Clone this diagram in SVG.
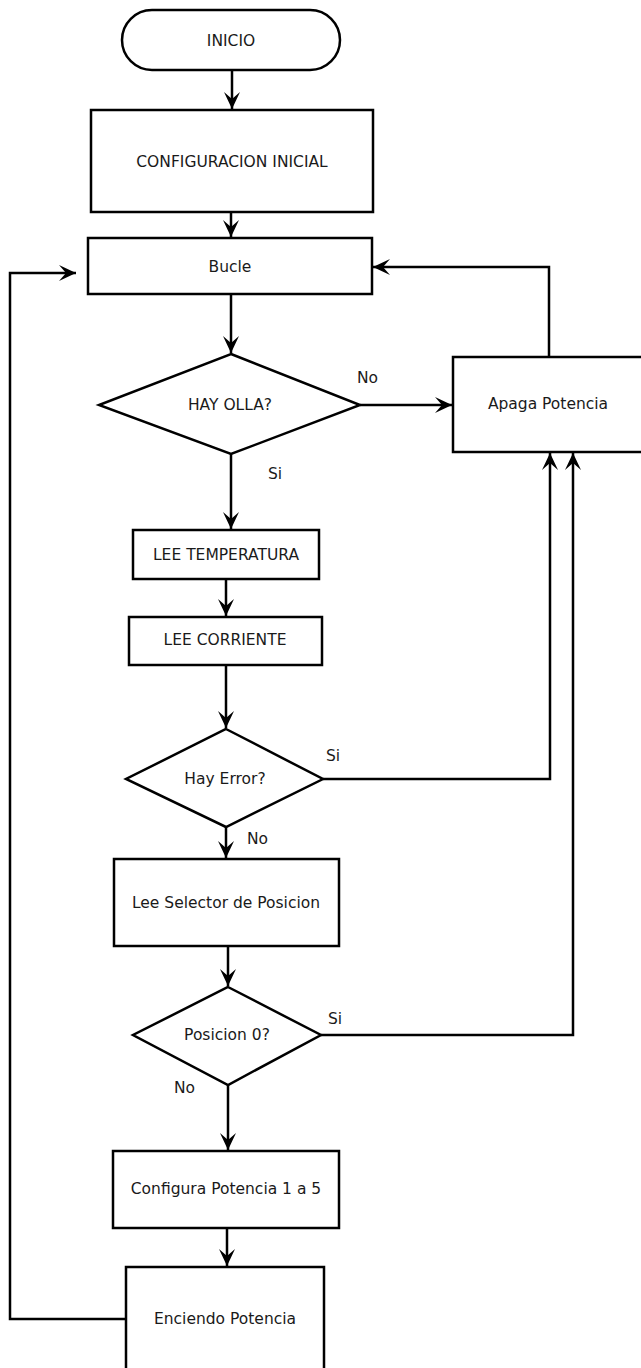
<svg xmlns="http://www.w3.org/2000/svg" width="641" height="1368" viewBox="0 0 641 1368">
<style>
.box{fill:#fff;stroke:#000;stroke-width:2.5}
.t{font-family:"DejaVu Sans","Liberation Sans",sans-serif;font-size:15.5px;fill:#1a1a1a;text-anchor:middle}
.lbl{font-family:"DejaVu Sans","Liberation Sans",sans-serif;font-size:15.5px;fill:#1a1a1a}
.c{fill:none;stroke:#000;stroke-width:2.5;marker-end:url(#ah)}
</style>
<defs>
<marker id="ah" viewBox="-19 -10 21 20" refX="0" refY="0" markerWidth="21" markerHeight="20" markerUnits="userSpaceOnUse" orient="auto">
<path d="M0,0 L-17,-8 L-10,0 L-17,8 Z" fill="#000"/>
</marker>
</defs>
<rect width="641" height="1368" fill="#fff"/>
<g id="connectors">
<path class="c" d="M232,70 V109"/>
<path class="c" d="M231,212 V237"/>
<path class="c" d="M231,294 V353"/>
<path class="c" d="M360,405 H452"/>
<path class="c" d="M549,357 V267 H373"/>
<path class="c" d="M231,454 V529"/>
<path class="c" d="M226,579 V616"/>
<path class="c" d="M226,665 V728"/>
<path class="c" d="M323,779 H550 V453"/>
<path class="c" d="M226,827 V858"/>
<path class="c" d="M228,946 V986"/>
<path class="c" d="M321,1035 H573 V453"/>
<path class="c" d="M228,1085 V1150"/>
<path class="c" d="M227,1228 V1266"/>
<path class="c" d="M126,1319 H10 V273 H76"/>
<text class="lbl" x="357" y="383">No</text>
<text class="lbl" x="268" y="479">Si</text>
<text class="lbl" x="326" y="761">Si</text>
<text class="lbl" x="247" y="844">No</text>
<text class="lbl" x="328" y="1024">Si</text>
<text class="lbl" x="174" y="1093">No</text>
</g>
<g id="inicio"><rect class="box" x="122" y="10" width="218" height="60" rx="30" ry="30"/><text class="t" x="231" y="46">INICIO</text></g>
<g id="config"><rect class="box" x="91" y="110" width="282" height="102"/><text class="t" x="232" y="167">CONFIGURACION INICIAL</text></g>
<g id="bucle"><rect class="box" x="88" y="238" width="284" height="56"/><text class="t" x="230" y="272">Bucle</text></g>
<g id="hayolla"><polygon class="box" points="231,354 360,405 231,454 99,405"/><text class="t" x="230" y="410">HAY OLLA?</text></g>
<g id="apaga"><rect class="box" x="453" y="357" width="192" height="95"/><text class="t" x="548" y="409">Apaga Potencia</text></g>
<g id="leetemp"><rect class="box" x="133" y="530" width="186" height="49"/><text class="t" x="226" y="560">LEE TEMPERATURA</text></g>
<g id="leecorr"><rect class="box" x="129" y="617" width="193" height="48"/><text class="t" x="225" y="645">LEE CORRIENTE</text></g>
<g id="hayerror"><polygon class="box" points="226,729 323,779 226,827 126,779"/><text class="t" x="225" y="784">Hay Error?</text></g>
<g id="leesel"><rect class="box" x="114" y="859" width="225" height="87"/><text class="t" x="226" y="908">Lee Selector de Posicion</text></g>
<g id="posicion"><polygon class="box" points="228,987 321,1035 228,1085 133,1035"/><text class="t" x="227" y="1040">Posicion 0?</text></g>
<g id="configura"><rect class="box" x="113" y="1151" width="226" height="77"/><text class="t" x="226" y="1194">Configura Potencia 1 a 5</text></g>
<g id="enciendo"><rect class="box" x="126" y="1267" width="198" height="110"/><text class="t" x="225" y="1324">Enciendo Potencia</text></g>
</svg>
